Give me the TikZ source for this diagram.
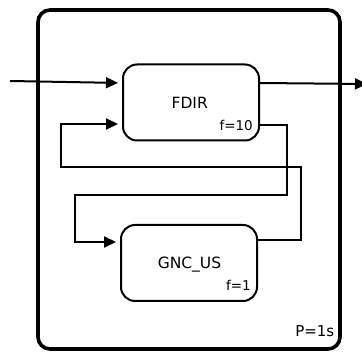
\documentclass[tikz,border=0pt]{standalone}
\usepackage{fontspec}
\setmainfont{DejaVu Sans}
\usetikzlibrary{arrows.meta}
\begin{document}
\begin{tikzpicture}[x=1pt,y=-1pt,
  blockbox/.style={draw,line width=2pt,rounded corners=14pt,minimum width=136pt,minimum height=76pt,inner sep=0pt},
  framebox/.style={draw,line width=3.6pt,rounded corners=12pt,minimum width=302pt,minimum height=339pt,inner sep=0pt},
  flow/.style={line width=2pt,-{Triangle[length=12pt,width=11pt]}},
  title/.style={font=\fontsize{15.5}{18}\selectfont,inner sep=0pt,anchor=base},
  small/.style={font=\fontsize{13.5}{16}\selectfont,inner sep=0pt,anchor=base east},
  period/.style={font=\fontsize{15}{18}\selectfont,inner sep=0pt,anchor=base east}]
\useasboundingbox (0,0) rectangle (362,352);
\node[framebox] (frame) at (189,179.5) {};
\node[blockbox] (fdir) at (191,102.5) {};
\node[blockbox] (gnc) at (189,263) {};
\node[title] (fdirt) at (189.7,108.3) {FDIR};
\node[small] (fdirf) at (253,130.5) {f=10};
\node[title] (gnct) at (189.5,268.3) {GNC\_US};
\node[small] (gncf) at (251,291) {f=1};
\node[period] (per) at (334.5,336.5) {P=1s};
\coordinate (in) at (10,81);
\coordinate (out) at (367,84);
\draw[flow,shorten >=4pt] (in) -- ([yshift=19.5pt]fdir.west);
\draw[flow] ([yshift=19.5pt]fdir.east) -- (out);
\draw[flow,shorten >=4pt] ([yshift=-22.5pt]fdir.east) -| (287,195) -| (75,242) -- ([yshift=21pt]gnc.west);
\draw[flow,shorten >=4pt] ([yshift=23pt]gnc.east) -| (301,167) -| (61,124) -- ([yshift=-21.5pt]fdir.west);
\end{tikzpicture}
\end{document}
